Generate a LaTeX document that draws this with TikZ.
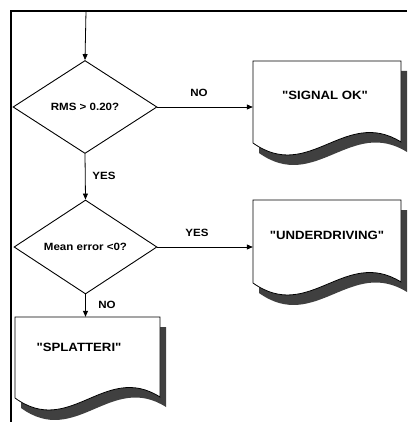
\documentclass[tikz,border=0pt]{standalone}
\usepackage{fontspec}
\setmainfont{Liberation Sans}[FakeStretch=1.1,Ligatures=TeXOff]
\usetikzlibrary{shapes.geometric,arrows.meta,calc}
\newcommand\docshape[4]{%
  \fill[shadowc,shift={(6,10)}] (#1,#2) -- (#1,#4) .. controls ({#1+0.38*(#3-#1)},{#4+40}) and ({#1+0.62*(#3-#1)},{#4-36}) .. (#3,{#4-1}) -- (#3,#2) -- cycle;
  \filldraw[docline] (#1,#2) -- (#1,#4) .. controls ({#1+0.38*(#3-#1)},{#4+40}) and ({#1+0.62*(#3-#1)},{#4-36}) .. (#3,{#4-1}) -- (#3,#2) -- cycle;
}
\begin{document}
\begin{tikzpicture}[x=1pt,y=-1pt,
  shadowc/.style={fill=black!75},
  docline/.style={draw=black,fill=white,line width=0.8pt},
  decision/.style={diamond,draw=black,line width=0.9pt,inner sep=0pt,aspect=1.5,
    font=\bfseries\fontsize{10.5}{12}\selectfont},
  anchorbox/.style={rectangle,inner sep=0pt},
  boxtext/.style={font=\bfseries\fontsize{12}{14}\selectfont},
  lbl/.style={font=\bfseries\fontsize{10.5}{12}\selectfont},
  conn/.style={line width=0.8pt,-{Triangle[length=6pt,width=5pt]}},
  frame/.style={line width=1.3pt}]
\useasboundingbox (0,0) rectangle (407,422);
% frame
\draw[frame] (11,422) -- (11,11) -- (407,11);
\coordinate (start) at (86,11);
% decisions
\node[decision,minimum width=144pt,minimum height=93pt] (d1) at (85,107) {RMS > 0.20?};
\node[decision,minimum width=143pt,minimum height=94pt] (d2) at (85.5,247) {Mean error <0?};
% documents
\docshape{253}{61}{401}{143}
\node[anchorbox,minimum width=148pt,minimum height=82pt] (ok) at (327,102) {};
\node[boxtext] (okt) at (325,95) {"SIGNAL OK"};
\docshape{253}{200}{401}{283}
\node[anchorbox,minimum width=148pt,minimum height=83pt] (under) at (327,241.5) {};
\node[boxtext] (undert) at (327,235) {"UNDERDRIVING"};
\docshape{15}{317}{160}{398}
\node[anchorbox,minimum width=145pt,minimum height=81pt] (spl) at (87.5,357.5) {};
\node[boxtext] (splt) at (79,347) {"SPLATTERI"};
% connectors
\draw[conn] (start) -- (d1.north);
\draw[conn] (d1.east) -- (d1.east -| ok.west);
\draw[conn] (d1.south) -- (d2.north);
\draw[conn] (d2.east) -- (d2.east -| under.west);
\draw[conn] (d2.south) -- (d2.south |- spl.north);
% labels
\node[lbl] (l1) at (199,93) {NO};
\node[lbl] (l2) at (104,176) {YES};
\node[lbl] (l3) at (197,233) {YES};
\node[lbl] (l4) at (107,305) {NO};
\end{tikzpicture}
\end{document}
